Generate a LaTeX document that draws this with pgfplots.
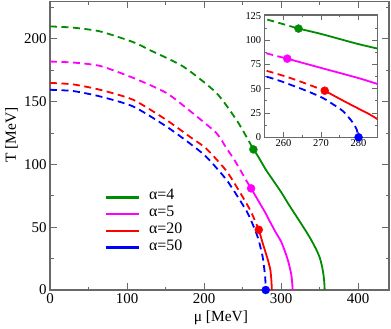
\documentclass[border=0pt]{standalone}
\usepackage{fontspec}
\setmainfont{Liberation Serif}
\usepackage{pgfplots}
\usepackage{pgfplotstable}
\pgfplotsset{compat=1.18}
\usetikzlibrary{calc}

\definecolor{cgreen}{RGB}{0,140,0}
\definecolor{cmag}{RGB}{255,0,255}
\definecolor{cred}{RGB}{255,0,0}
\definecolor{cblue}{RGB}{0,0,255}
\definecolor{frame}{RGB}{105,105,105}

% alpha = 4
\pgfplotstableread{
mu T
0 210
30 209
65 206
108 197.5
130 191
173 178
216 157
242 135.5
255 122
264 112
}\gdash
\pgfplotstableread{
mu T
264 112
270 106.5
280 96
290 87
300 78
310 68
320 58.5
330 49
338 41
345 33
350 26
353 19
355 12
356 6
356.5 0
}\gsol
% alpha = 5
\pgfplotstableread{
mu T
0 182
30 181.2
65 178.5
108 169
151 157
185 141
216 125
229 113
240 103
255 87
261 81
}\mdash
\pgfplotstableread{
mu T
261 81
270 71.5
280 61
285 55
292 47
300 38.5
306 29
310 21
313.5 11
315 0
}\msol
% alpha = 20
\pgfplotstableread{
mu T
0 165
30 163.8
65 159.5
108 151.5
151 135.5
181 122.3
203 112.5
230 94
255 69
263 59.5
271 48
}\rdash
\pgfplotstableread{
mu T
271 48
276 37.5
280 29.5
283 23.5
286 16
287.3 8
288 0
}\rsol
% alpha = 50
\pgfplotstableread{
mu T
0 159.5
30 158.5
65 154.2
108 146.2
151 130.3
181 117
203 106
230 87
255 63
263 52.5
267 46.5
270.5 40.5
273 34.5
276 26.5
278.5 15
279.5 8
280 0
}\bdash

\pgfplotsset{
  frm/.style={
    scale only axis,
    axis line style={frame, line width=1.1bp},
    every tick/.style={frame, line width=1bp},
    tick align=inside,
    /pgf/number format/assume math mode=true,
  },
  dsh/.style={line width=1.8bp, dash pattern=on 7bp off 4.5bp, smooth, tension=0.4},
  sld/.style={line width=1.8bp, smooth, tension=0.4},
  dot/.style={only marks, mark=*, mark size=4bp},
}

\begin{document}
\begin{tikzpicture}
\begin{axis}[frm, name=main,
  width=339bp, height=288.7bp,
  xmin=0, xmax=440, ymin=0, ymax=230,
  xtick={0,100,...,400}, minor xtick={50,150,...,450},
  ytick={0,50,...,200}, minor ytick={25,75,...,225},
  major tick length=7bp, minor tick length=3.5bp,
  ticklabel style={font=\fontsize{15}{15}\selectfont},
  xlabel={μ [MeV]}, ylabel={T [MeV]},
  label style={font=\fontsize{15.5}{15.5}\selectfont},
  xlabel style={at={(axis description cs:0.504,-0.095)}, anchor=center},
  ylabel style={at={(axis description cs:-0.1136,0.537)}, anchor=center},
  legend style={at={(axis description cs:0.1622,0.350)}, anchor=north west,
    draw=none, fill=none, inner sep=0pt, outer sep=0pt,
    font=\fontsize{16}{16}\selectfont,
    nodes={inner sep=0pt, text height=11bp, text depth=5.7bp, anchor=west},
    row sep=0pt, column sep=9bp},
  legend cell align=left,
  legend image code/.code={\draw[#1, solid, line width=2.4bp] (0bp,0bp) -- (32.7bp,0bp);},
]
\addplot[cgreen, dsh, forget plot] table {\gdash};
\addplot[cmag, dsh, forget plot] table {\mdash};
\addplot[cred, dsh, forget plot] table {\rdash};
\addplot[cgreen, sld] table {\gsol};
\addlegendentry{α=4}
\addplot[cmag, sld] table {\msol};
\addlegendentry{α=5}
\addplot[cred, sld] table {\rsol};
\addlegendentry{α=20}
\addplot[cblue, dsh] table {\bdash};
\addlegendentry{α=50}
\addplot[cgreen, dot, forget plot] coordinates {(264,112)};
\addplot[cmag, dot, forget plot] coordinates {(261,81)};
\addplot[cred, dot, forget plot] coordinates {(271,48)};
\addplot[cblue, dot, forget plot] coordinates {(280,0)};
\end{axis}

\begin{axis}[frm,
  at={($(main.south west)+(214.7bp,152.7bp)$)}, anchor=south west,
  width=112.6bp, height=122.3bp,
  xmin=255, xmax=285, ymin=0, ymax=126,
  xtick={260,270,280}, minor xtick={255,265,275,285},
  ytick={0,25,...,125}, minor ytick={12.5,37.5,...,112.5},
  major tick length=5bp, minor tick length=2.5bp,
  ticklabel style={font=\fontsize{10.5}{10.5}\selectfont},
  xticklabel style={yshift=1bp},
  axis background/.style={fill=white},
]
\addplot[cgreen, dsh] table {\gdash};
\addplot[cmag, dsh] table {\mdash};
\addplot[cred, dsh] table {\rdash};
\addplot[cblue, dsh] table {\bdash};
\addplot[cgreen, sld] table {\gsol};
\addplot[cmag, sld] table {\msol};
\addplot[cred, sld] table {\rsol};
\addplot[cgreen, dot] coordinates {(264,112)};
\addplot[cmag, dot] coordinates {(261,81)};
\addplot[cred, dot] coordinates {(271,48)};
\addplot[cblue, dot] coordinates {(280,0)};
\end{axis}

\pgfresetboundingbox
\path ($(main.south west)+(-50bp,-38bp)$) rectangle ($(main.north east)+(2bp,1.3bp)$);
\end{tikzpicture}
\end{document}
